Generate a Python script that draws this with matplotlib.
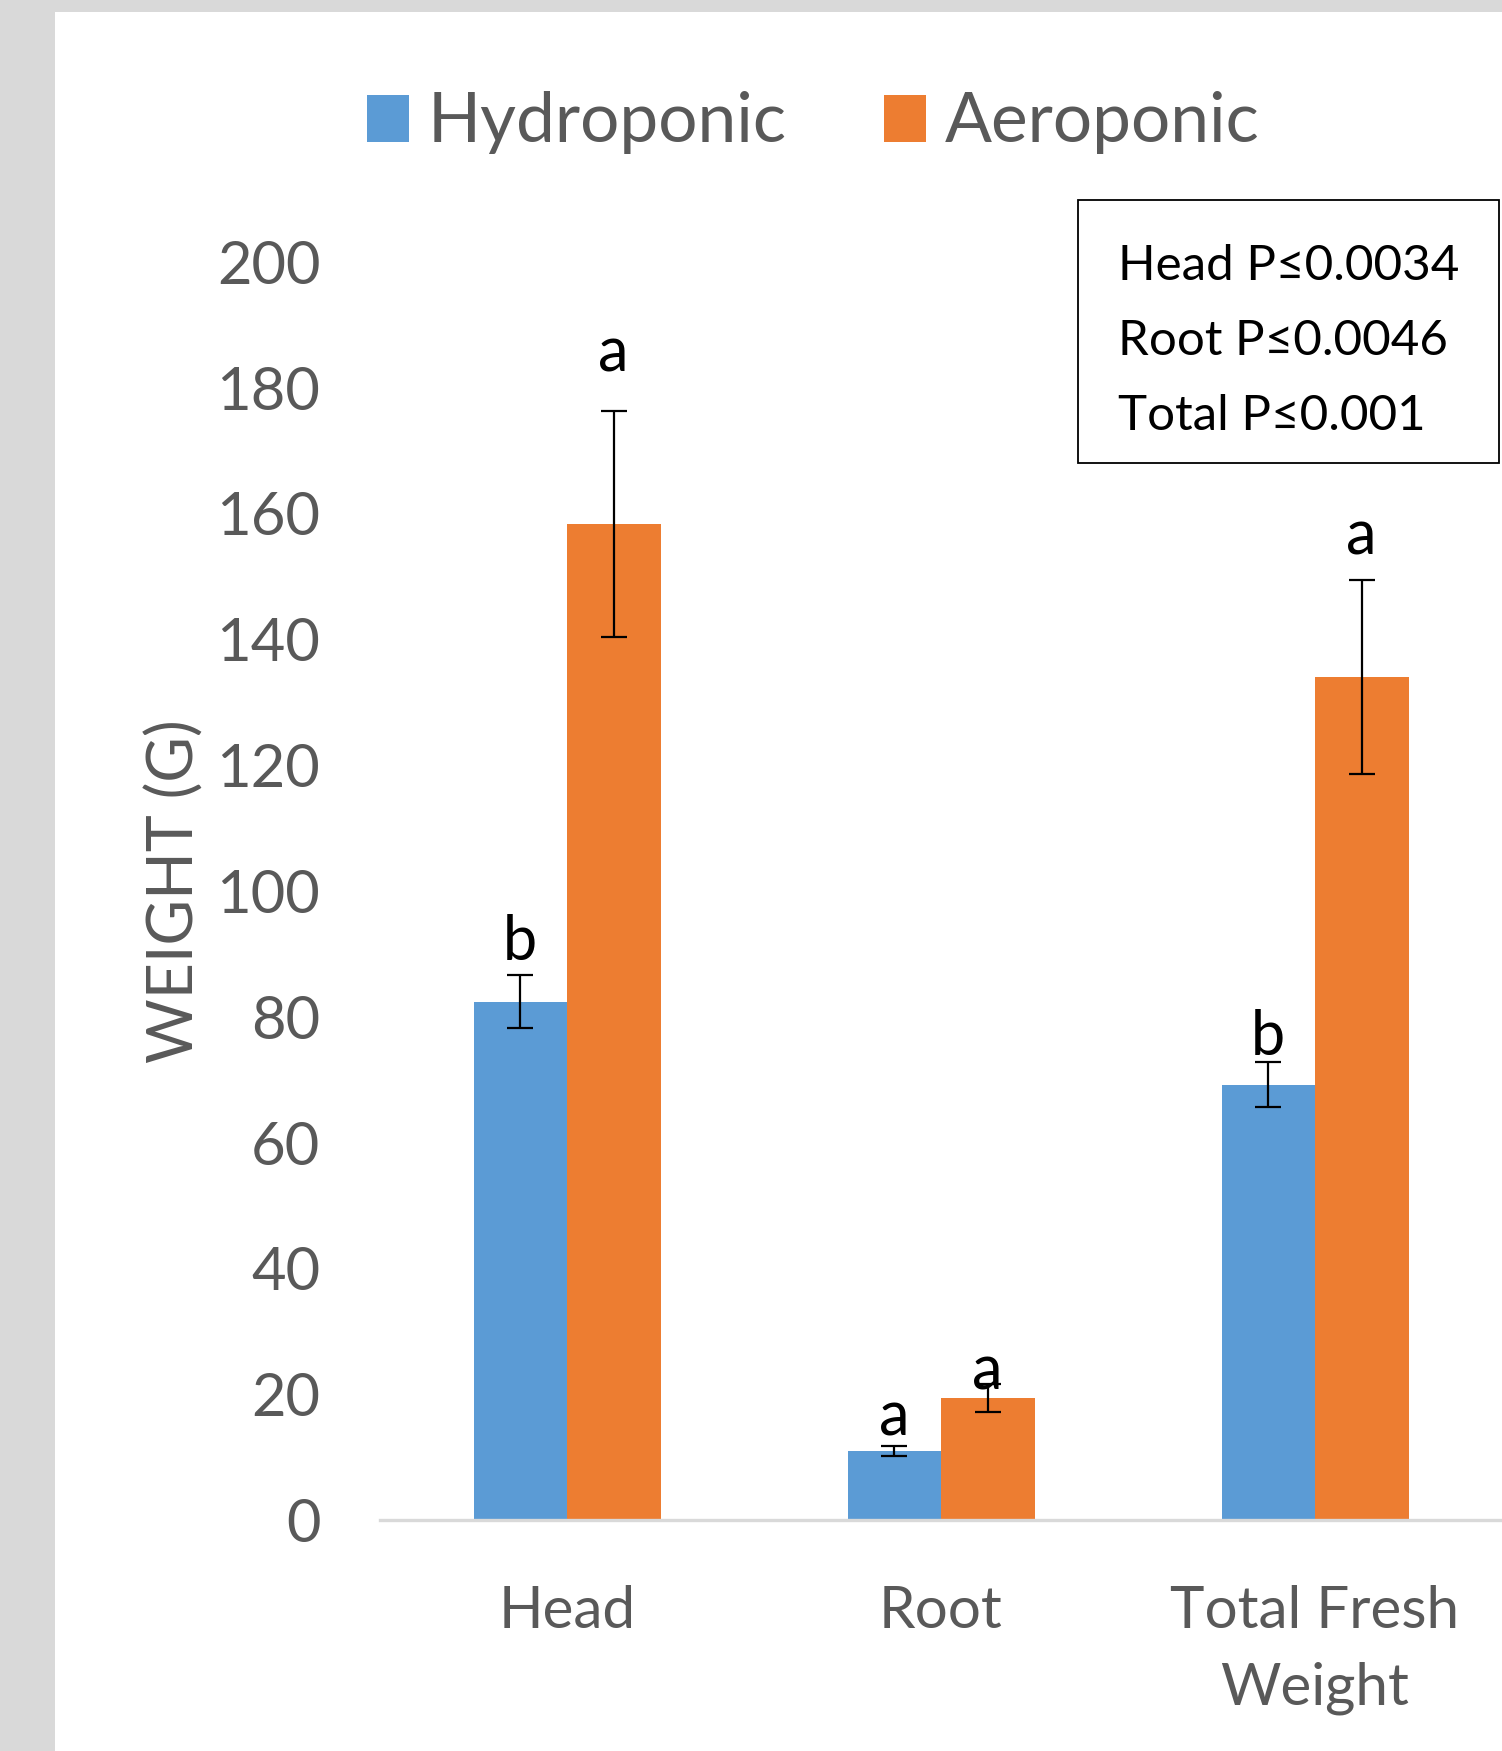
import numpy as np
import matplotlib
matplotlib.use('Agg')
import matplotlib.pyplot as plt
from matplotlib.patches import Rectangle

plt.rcParams['font.family'] = ['Lato', 'DejaVu Sans']

#%% Fresh weight data (g)
categories = ['Head', 'Root', 'Total Fresh\nWeight']
hydro = [82.4, 11.0, 69.2]
hydro_err = [4.2, 0.8, 3.6]
aero = [158.3, 19.4, 134.0]
aero_err = [18.0, 2.2, 15.4]

# significance letters and the height they sit at
hydro_letters = ['b', 'a', 'b']
aero_letters = ['a', 'a', 'a']
hydro_letter_y = [89.0, 13.4, 73.9]
aero_letter_y = [182.6, 20.8, 153.4]

p_labels = ['Head P\u22640.0034', 'Root P\u22640.0046', 'Total P\u22640.001']

blue = '#5B9BD5'
orange = '#ED7D31'
grey_txt = '#595959'

#%%
W, H = 1502, 1751
fig = plt.figure(figsize=(W/100, H/100), dpi=100)
fig.patch.set_facecolor('#D9D9D9')
fig.add_artist(Rectangle((55/W, 0), 1 - 55/W, 1 - 12/H, transform=fig.transFigure,
                         facecolor='white', edgecolor='none', zorder=-1))

ax_left = 380
ax = fig.add_axes([ax_left/W, 1 - 1520/H, 1 - ax_left/W, (1520 - 261.7)/H])
ax.patch.set_visible(False)

x = np.arange(len(categories))
bw = 0.25
ekw = dict(ecolor='black', elinewidth=1.6, capsize=9.5, capthick=1.6)
b1 = ax.bar(x - bw/2, hydro, bw, yerr=hydro_err, color=blue, label='Hydroponic', error_kw=ekw)
b2 = ax.bar(x + bw/2, aero, bw, yerr=aero_err, color=orange, label='Aeroponic', error_kw=ekw)

for xi, lab, yy in zip(x - bw/2, hydro_letters, hydro_letter_y):
    ax.text(xi, yy, lab, ha='center', va='baseline', fontsize=44, color='black')
for xi, lab, yy in zip(x + bw/2, aero_letters, aero_letter_y):
    ax.text(xi, yy, lab, ha='center', va='baseline', fontsize=44, color='black')

ax.set_xlim(-0.5, 2.5)
ax.set_ylim(0, 200)
ax.set_yticks(np.arange(0, 201, 20))
ax.set_xticks(x)
ax.set_xticklabels(categories, linespacing=1.55)
ax.tick_params(axis='y', length=0, pad=43, labelsize=43, labelcolor=grey_txt)
ax.tick_params(axis='x', length=0, pad=47, labelsize=42, labelcolor=grey_txt)
for s in ['top', 'right', 'left']:
    ax.spines[s].set_visible(False)
ax.spines['bottom'].set_color('#D9D9D9')
ax.spines['bottom'].set_linewidth(2.4)
ax.set_ylabel('WEIGHT (G)', fontsize=45, color=grey_txt)
ax.yaxis.set_label_coords((205 - ax_left)/(W - ax_left), 0.5)

fig.legend(handles=[b1, b2], loc='center left', bbox_to_anchor=(367/W, 1 - 123/H),
           ncol=2, frameon=False, fontsize=50, labelcolor=grey_txt,
           handlelength=0.6, handleheight=0.67, handletextpad=0.27,
           columnspacing=1.41, borderpad=0, borderaxespad=0)

# p-value box
fig.add_artist(Rectangle((1078/W, 1 - 463/H), (1499 - 1078)/W, (463 - 200)/H,
                         transform=fig.transFigure, facecolor='white',
                         edgecolor='black', linewidth=1.3))
for i, t in enumerate(p_labels):
    fig.text(1118/W, 1 - (280 + 75*i)/H, t, fontsize=35.5, color='black',
             ha='left', va='baseline')

fig.savefig('out.png', dpi=100, facecolor=fig.get_facecolor())
